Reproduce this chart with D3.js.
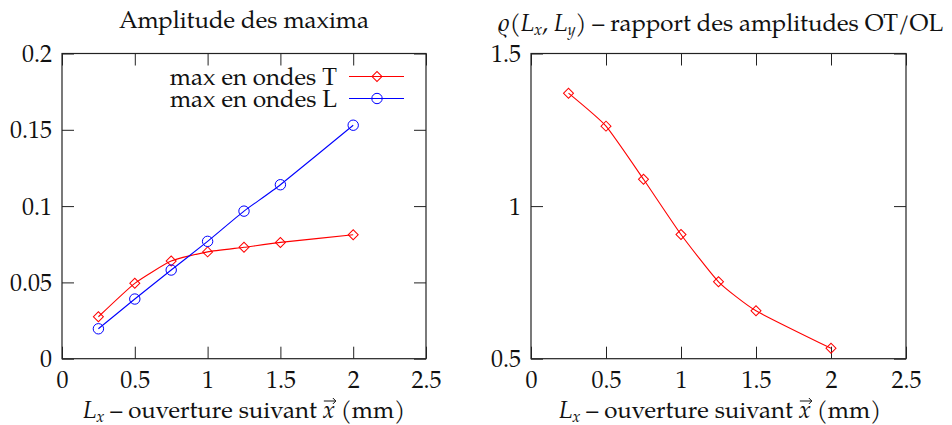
<!DOCTYPE html>
<html>
<head>
<meta charset="utf-8">
<script src="https://cdn.jsdelivr.net/npm/d3@7"></script>
<style>
  body { margin: 0; background: #fff; }
</style>
</head>
<body>
<div id="chart"></div>
<script>
// data
var lx = [0.25, 0.5, 0.75, 1, 1.25, 1.5, 2];
var maxT = [0.0275, 0.0494, 0.064, 0.070, 0.073, 0.0762, 0.0812];
var maxL = [0.0196, 0.0391, 0.0581, 0.0769, 0.0967, 0.114, 0.153];
var ratio = [1.37, 1.262, 1.088, 0.907, 0.752, 0.657, 0.534];

var xTicks = [0, 0.5, 1, 1.5, 2, 2.5];
var yTicksLeft = [0, 0.05, 0.1, 0.15, 0.2];
var yTicksRight = [0.5, 1, 1.5];
var legendNames = ["max en ondes T", "max en ondes L"];

var width = 952, height = 425
var fs = 24, subFs = 16, tickLen = 12
var serif = "'TeX Gyre Pagella', 'Liberation Serif', serif"

var svg = d3.select("#chart").append("svg")
    .attr("width", width)
    .attr("height", height)

function label(parent, x, y, anchor) {
    return parent.append("text")
        .attr("x", x).attr("y", y)
        .attr("text-anchor", anchor)
        .style("font-family", serif)
        .style("font-size", fs + "px")
        .attr("fill", "#111")
}

// draws one framed panel, returns the scales
function panel(left, right, top, bottom, yDomain, yTicks) {
    var x = d3.scaleLinear().domain([0, 2.5]).range([left, right])
    var y = d3.scaleLinear().domain(yDomain).range([bottom, top])
    var g = svg.append("g")

    // ticks on all four sides, pointing in
    var xb = g.append("g").attr("transform", "translate(0," + bottom + ")")
        .call(d3.axisBottom(x).tickValues(xTicks).tickSizeInner(-tickLen).tickSizeOuter(0).tickFormat(d3.format("")))
    g.append("g").attr("transform", "translate(0," + top + ")")
        .call(d3.axisTop(x).tickValues(xTicks).tickSizeInner(-tickLen).tickSizeOuter(0).tickFormat(""))
    var yl = g.append("g").attr("transform", "translate(" + left + ",0)")
        .call(d3.axisLeft(y).tickValues(yTicks).tickSizeInner(-tickLen).tickSizeOuter(0).tickFormat(d3.format("")))
    g.append("g").attr("transform", "translate(" + right + ",0)")
        .call(d3.axisRight(y).tickValues(yTicks).tickSizeInner(-tickLen).tickSizeOuter(0).tickFormat(""))

    g.selectAll("g").attr("font-family", serif)
    g.selectAll(".domain").remove()
    g.selectAll(".tick line").attr("stroke", "#222").attr("stroke-width", 1)
    g.selectAll("text")
        .style("font-size", fs + "px")
        .style("font-family", serif)
        .attr("fill", "#111")
    xb.selectAll("text").attr("y", 12).attr("dy", "0.71em")
    yl.selectAll("text").attr("x", -10).attr("dy", "0.34em")

    g.append("rect")
        .attr("x", left).attr("y", top)
        .attr("width", right - left).attr("height", bottom - top)
        .attr("fill", "none").attr("stroke", "#222").attr("stroke-width", 1.2)

    return {x: x, y: y, g: g}
}

var diamond = d3.symbol().type(d3.symbolSquare).size(50)

function series(p, xs, ys, color, mark) {
    var pts = xs.map(function(v, i) { return [p.x(v), p.y(ys[i])] })
    var line = d3.line().curve(d3.curveCardinal.tension(0.5))
    p.g.append("path")
        .attr("d", line(pts))
        .attr("fill", "none")
        .attr("stroke", color)
        .attr("stroke-width", 1.1)
    drawMarks(p.g, pts, color, mark)
}

function drawMarks(g, pts, color, mark) {
    if (mark == "diamond") {
        g.selectAll(null).data(pts).enter().append("path")
            .attr("d", diamond)
            .attr("transform", function(d) { return "translate(" + d[0] + "," + d[1] + ") rotate(45)" })
            .attr("fill", "none").attr("stroke", color).attr("stroke-width", 1)
    } else {
        g.selectAll(null).data(pts).enter().append("circle")
            .attr("cx", function(d) { return d[0] })
            .attr("cy", function(d) { return d[1] })
            .attr("r", 5.2)
            .attr("fill", "none").attr("stroke", color).attr("stroke-width", 1)
    }
}

function xTitle(cx) {
    var t = label(svg, cx, 418, "middle")
    t.append("tspan").style("font-style", "italic").text("L")
    t.append("tspan").style("font-style", "italic").style("font-size", subFs + "px").attr("dy", 4).text("x")
    t.append("tspan").attr("dy", -4).text(" \u2013 ouverture suivant ")
    t.append("tspan").style("font-style", "italic").text("x")
    t.append("tspan").text(" (mm)")
    // vector arrow over the second x
    var s = t.node().textContent
    var idx = s.lastIndexOf("x")
    var a = t.node().getStartPositionOfChar(idx).x
    var b = t.node().getEndPositionOfChar(idx).x
    var ay = 418 - 17
    svg.append("path")
        .attr("d", "M" + (a + 1) + "," + ay + "H" + (b + 1) + "M" + (b - 2) + "," + (ay - 3) + "L" + (b + 1) + "," + ay + "L" + (b - 2) + "," + (ay + 3))
        .attr("fill", "none").attr("stroke", "#111").attr("stroke-width", 1)
}

// left panel
var pL = panel(62, 426, 53.5, 358.7, [0, 0.2], yTicksLeft)
series(pL, lx, maxT, "#ff0000", "diamond")
series(pL, lx, maxL, "#0000ff", "circle")

label(svg, 244, 28, "middle").text("Amplitude des maxima")
xTitle(244)

// legend
var legColors = ["#ff0000", "#0000ff"]
var legMarks = ["diamond", "circle"]
legendNames.forEach(function(name, i) {
    var ly = 76.5 + i * 22
    label(svg, 337, ly + 8, "end").text(name)
    svg.append("line")
        .attr("x1", 349).attr("x2", 404)
        .attr("y1", ly).attr("y2", ly)
        .attr("stroke", legColors[i]).attr("stroke-width", 1.1)
    drawMarks(svg, [[377, ly]], legColors[i], legMarks[i])
})

// right panel
var pR = panel(531, 906, 53.5, 358.7, [0.5, 1.5], yTicksRight)
series(pR, lx, ratio, "#ff0000", "diamond")

var rt = label(svg, 720, 31, "middle")
rt.append("tspan").style("font-style", "italic").text("\u03f1")
rt.append("tspan").text("(")
rt.append("tspan").style("font-style", "italic").text("L")
rt.append("tspan").style("font-style", "italic").style("font-size", subFs + "px").attr("dy", 4).text("x")
rt.append("tspan").attr("dy", -4).text(", ")
rt.append("tspan").style("font-style", "italic").text("L")
rt.append("tspan").style("font-style", "italic").style("font-size", subFs + "px").attr("dy", 4).text("y")
rt.append("tspan").attr("dy", -4).text(") \u2013 rapport des amplitudes OT/OL")
xTitle(720)
</script>
</body>
</html>
